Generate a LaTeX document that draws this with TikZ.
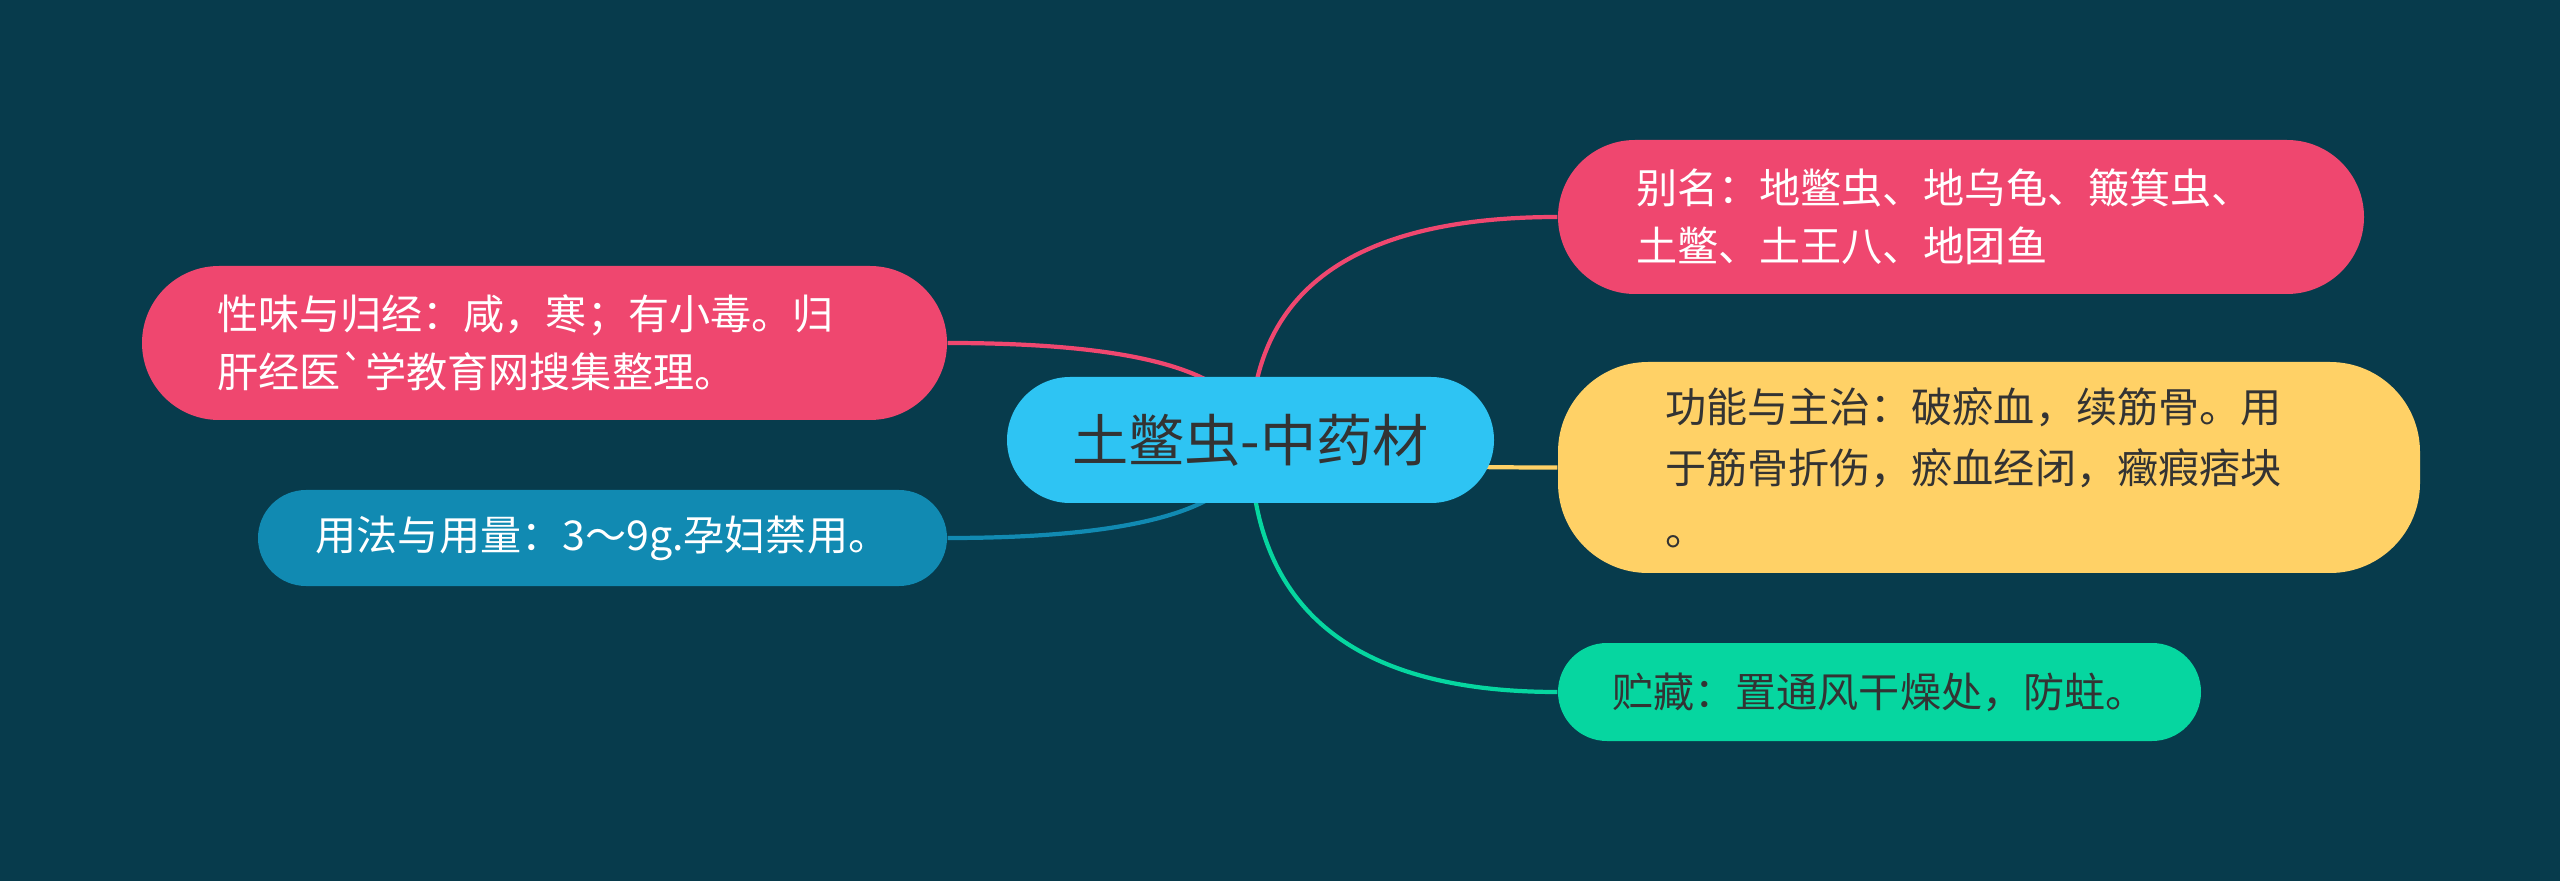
\documentclass[tikz,border=0pt]{standalone}
\usepackage{fontspec}
\setmainfont{Noto Sans CJK SC}
\newfontfamily\plaincjk{Noto Sans CJK SC}
\definecolor{mmbg}{HTML}{073B4C}
\definecolor{mmcyan}{HTML}{2EC4F3}
\definecolor{mmpink}{HTML}{EF476F}
\definecolor{mmblue}{HTML}{118AB2}
\definecolor{mmyellow}{HTML}{FFD166}
\definecolor{mmgreen}{HTML}{06D6A0}
\definecolor{mmdark}{HTML}{333333}
\usetikzlibrary{positioning}
\pgfdeclarelayer{bg}
\pgfdeclarelayer{links}
\pgfsetlayers{bg,links,main}

\begin{document}
\begin{tikzpicture}[
  leaf/.style={inner ysep=0pt,align=left,font=\fontsize{11.7pt}{16.5pt}\selectfont},
  link/.style={line width=1.2pt}]
  \useasboundingbox (0,0) rectangle (25.6,-8.81);
  \begin{pgfonlayer}{bg}
    \fill[mmbg] (0,0) rectangle (25.6,-8.81);
  \end{pgfonlayer}
  % centre topic
  \node[fill=mmcyan,text=mmdark,rounded corners=0.63cm,
        minimum width=4.87cm,minimum height=1.26cm,
        font=\fontsize{16pt}{19pt}\selectfont]
        (root) at (12.505,-4.40) {土鳖虫-中药材};
  % left branches
  \node[leaf,fill=mmpink,text=white,rounded corners=0.77cm,
        minimum width=8.05cm,minimum height=1.54cm,
        text width=6.55cm,inner xsep=0.75cm]
        (taste) at (5.445,-3.43) {性味与归经：咸，寒；有小毒。归\\肝经医{\plaincjk\symbol{96}}学教育网搜集整理。};
  \node[leaf,fill=mmblue,text=white,rounded corners=0.48cm,
        minimum width=6.89cm,minimum height=0.96cm,align=center]
        (usage) at (6.025,-5.38) {用法与用量：3～9g.孕妇禁用。};
  % right branches
  \node[leaf,fill=mmpink,text=white,rounded corners=0.77cm,
        minimum width=8.06cm,minimum height=1.54cm,
        text width=6.50cm,inner xsep=0.78cm]
        (alias) at (19.61,-2.17) {别名：地鳖虫、地乌龟、簸箕虫、\\土鳖、土王八、地团鱼};
  \node[leaf,fill=mmyellow,text=mmdark,rounded corners=0.9cm,
        minimum width=8.62cm,minimum height=2.11cm,
        text width=6.48cm,inner xsep=1.07cm,
        font=\fontsize{11.7pt}{17.5pt}\selectfont]
        (func) at (19.89,-4.675) {功能与主治：破瘀血，续筋骨。用\\于筋骨折伤，瘀血经闭，癥瘕痞块\\。};
  \node[leaf,fill=mmgreen,text=mmdark,rounded corners=0.49cm,
        minimum width=6.43cm,minimum height=0.98cm,align=center]
        (store) at (18.795,-6.92) {贮藏：置通风干燥处，防蛀。};
  % connectors behind the nodes
  \begin{pgfonlayer}{links}
    \draw[link,mmpink] (root.center) .. controls +(0,1.49) and +(-2.05,0) .. (alias.west);
    \draw[link,mmyellow] (root.center) .. controls +(0,-0.19) and +(-2.05,0) .. (func.west);
    \draw[link,mmgreen] (root.center) .. controls +(0,-1.68) and +(-2.05,0) .. (store.west);
    \draw[link,mmpink] (root.center) .. controls +(0,0.65) and +(2.02,0) .. (taste.east);
    \draw[link,mmblue] (root.center) .. controls +(0,-0.65) and +(2.02,0) .. (usage.east);
  \end{pgfonlayer}
\end{tikzpicture}
\end{document}
